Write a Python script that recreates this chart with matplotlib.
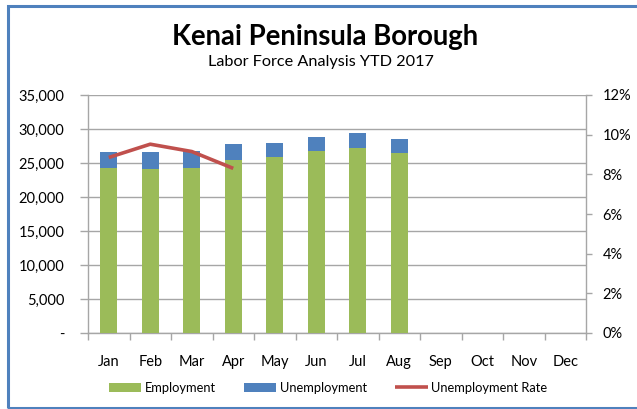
import matplotlib
matplotlib.use("Agg")
import matplotlib.pyplot as plt
from matplotlib.patches import Rectangle
from matplotlib.ticker import FuncFormatter, MultipleLocator

months = ["Jan", "Feb", "Mar", "Apr", "May", "Jun", "Jul", "Aug", "Sep", "Oct", "Nov", "Dec"]
employment = [24220, 24070, 24200, 25440, 25830, 26760, 27250, 26520]
unemployment = [2350, 2480, 2560, 2350, 2160, 2060, 2160, 1960]
unemp_rate = [8.85, 9.52, 9.15, 8.3]

plt.rcParams['font.family'] = ['Lato', 'DejaVu Sans']

fig = plt.figure(figsize=(6.37, 4.09), dpi=100)
W, H = 637, 409
ax = fig.add_axes([88 / W, 1 - 333 / H, (586 - 88) / W, (333 - 95) / H])

green = "#9bbb59"
blue = "#4f81bd"
red = "#c0504d"
grid = "#a6a6a6"

x = list(range(len(months)))
xb = x[:len(employment)]
ax.bar(xb, employment, width=0.42, color=green, edgecolor="none", label="Employment", zorder=3)
ax.bar(xb, unemployment, width=0.42, bottom=employment, color=blue, edgecolor="none",
       label="Unemployment", zorder=3)

ax.set_xlim(-0.5, len(months) - 0.5)
ax.set_ylim(0, 35000)
ax.yaxis.set_major_locator(MultipleLocator(5000))
ax.yaxis.set_major_formatter(FuncFormatter(lambda v, p: "-" if v == 0 else f"{int(v):,}"))
ax.grid(axis="y", color=grid, linewidth=1.0, zorder=0)
ax.set_axisbelow(True)
ax.set_xticks([i - 0.5 for i in range(len(months) + 1)])
ax.set_xticklabels([])
ax.set_xticks(x, minor=True)
ax.set_xticklabels(months, minor=True)
ax.tick_params(axis="x", which="major", length=5, color=grid, width=1)
ax.tick_params(axis="x", which="minor", length=0, pad=16, labelsize=10.5)
ax.tick_params(axis="y", length=6, color=grid, width=1, labelsize=10.5, pad=11)
for s in ["top", "right"]:
    ax.spines[s].set_visible(False)
for s in ["left", "bottom"]:
    ax.spines[s].set_color(grid)
    ax.spines[s].set_linewidth(1.0)

ax2 = ax.twinx()
ax2.plot(x[:len(unemp_rate)], unemp_rate, color=red, linewidth=2.6, label="Unemployment Rate",
         zorder=4, solid_capstyle="butt")
ax2.set_ylim(0, 12)
ax2.yaxis.set_major_locator(MultipleLocator(2))
ax2.yaxis.set_major_formatter(FuncFormatter(lambda v, p: f"{int(v)}%"))
ax2.tick_params(axis="y", length=4, color=grid, width=1, labelsize=10.5, pad=8)
for s in ["top", "left", "bottom"]:
    ax2.spines[s].set_visible(False)
ax2.spines["right"].set_color(grid)
ax2.spines["right"].set_linewidth(1.0)

h1, l1 = ax.get_legend_handles_labels()
h2, l2 = ax2.get_legend_handles_labels()
fig.legend(h1 + h2, l1 + l2, loc="center", bbox_to_anchor=(328 / W, 1 - 388 / H), ncol=3,
           frameon=False, fontsize=9.3, handlelength=2.5, handleheight=0.75, columnspacing=2.2,
           handletextpad=0.25)

fig.text(325 / W, 1 - 37 / H, "Kenai Peninsula Borough", ha="center", va="center",
         fontsize=19.8, fontweight="bold")
fig.text(321 / W, 1 - 62 / H, "Labor Force Analysis YTD 2017", ha="center", va="center",
         fontsize=11.7)

fig.patches.append(Rectangle((8 / W, 1 - 408 / H), 640 / W, 402.5 / H, transform=fig.transFigure,
                             fill=False, edgecolor=blue, linewidth=2.2))

fig.savefig("out.png", dpi=100)
